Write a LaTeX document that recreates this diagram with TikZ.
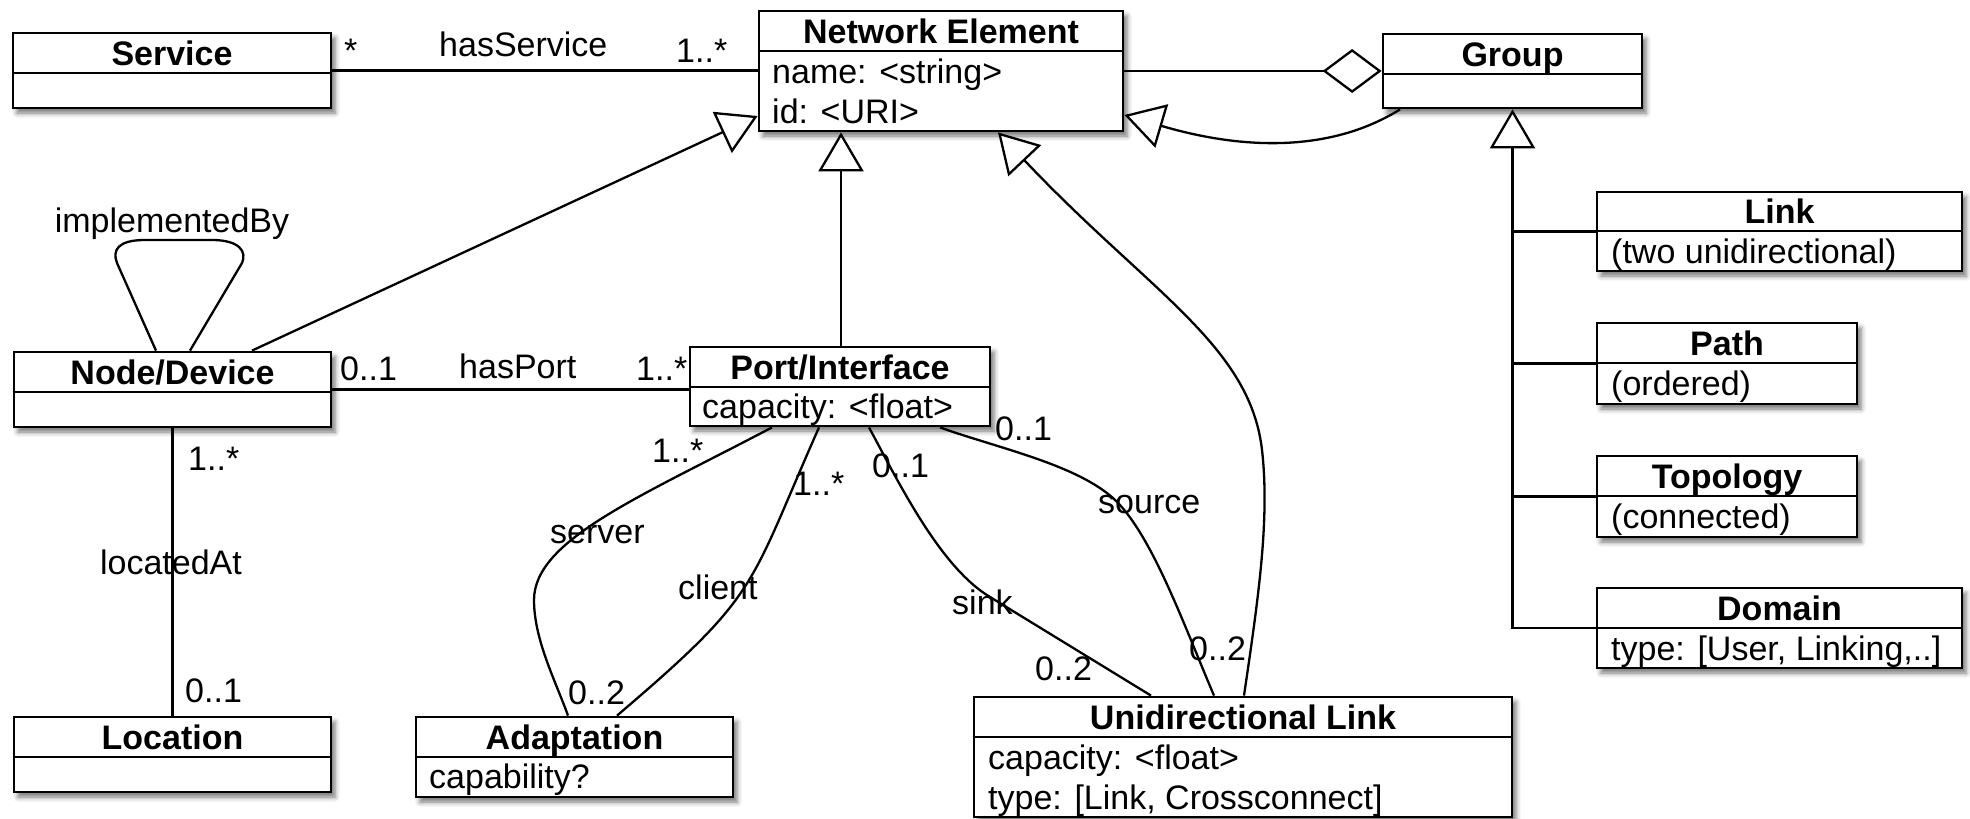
\documentclass[tikz,border=0pt]{standalone}
\usepackage{fontspec}
\setmainfont{Liberation Sans}
\usetikzlibrary{arrows.meta,shadows.blur}
\begin{document}
\begin{tikzpicture}[x=1pt,y=-1pt,
  cls/.style={draw, line width=2.8pt, fill=white, inner sep=0pt,
    blur shadow={shadow xshift=4pt, shadow yshift=-5pt, shadow blur radius=5pt, shadow opacity=55}},
  div/.style={line width=2.8pt},
  ttl/.style={font=\fontsize{34}{40}\selectfont\bfseries, anchor=base, inner sep=0pt},
  att/.style={font=\fontsize{34}{40}\selectfont, anchor=base west, inner sep=0pt},
  lbl/.style={font=\fontsize{34}{40}\selectfont, anchor=base west, inner sep=0pt},
  lblc/.style={font=\fontsize{34}{40}\selectfont, anchor=base, inner sep=0pt},
  conn/.style={line width=2.3pt},
  gen/.style={conn, -{Triangle[fill=white, length=39pt, width=45pt]}},
  agg/.style={conn, -{Diamond[fill=white, length=59pt, width=44pt]}}]
\useasboundingbox (0,0) rectangle (1970,819);

% ---------- classes ----------
\node[cls, minimum width=318pt, minimum height=75pt] (svc) at (172,70.5) {};
\draw[div] (svc.west |- 0,73) -- (svc.east |- 0,73);
\node[ttl] (svct) at (172,65) {Service};

\node[cls, minimum width=364pt, minimum height=120pt] (ne) at (941,71) {};
\draw[div] (ne.west |- 0,51) -- (ne.east |- 0,51);
\node[ttl] (net) at (941,43) {Network Element};
\node[att] (nea1) at (772,83) {name: <string>};
\node[att] (nea2) at (772,123) {id: <URI>};

\node[cls, minimum width=259pt, minimum height=74pt] (grp) at (1512.5,71) {};
\draw[div] (grp.west |- 0,74) -- (grp.east |- 0,74);
\node[ttl] (grpt) at (1512.5,66) {Group};

\node[cls, minimum width=317pt, minimum height=75pt] (nd) at (172.5,389.5) {};
\draw[div] (nd.west |- 0,392) -- (nd.east |- 0,392);
\node[ttl] (ndt) at (172.5,384) {Node/Device};

\node[cls, minimum width=317pt, minimum height=75pt] (loc) at (172.5,754.5) {};
\draw[div] (loc.west |- 0,757) -- (loc.east |- 0,757);
\node[ttl] (loct) at (172.5,749) {Location};

\node[cls, minimum width=300pt, minimum height=79pt] (pt) at (840,386.5) {};
\draw[div] (pt.west |- 0,387) -- (pt.east |- 0,387);
\node[ttl] (ptt) at (840,379) {Port/Interface};
\node[att] (pta) at (702,418) {capacity: <float>};

\node[cls, minimum width=317pt, minimum height=80pt] (adp) at (574.5,757) {};
\draw[div] (adp.west |- 0,757) -- (adp.east |- 0,757);
\node[ttl] (adpt) at (574.5,749) {Adaptation};
\node[att] (adpa) at (429,788) {capability?};

\node[cls, minimum width=538pt, minimum height=120pt] (uni) at (1243,757) {};
\draw[div] (uni.west |- 0,737) -- (uni.east |- 0,737);
\node[ttl] (unit) at (1243,729) {Unidirectional Link};
\node[att] (unia1) at (988,769) {capacity: <float>};
\node[att] (unia2) at (988,809) {type: [Link, Crossconnect]};

\node[cls, minimum width=365pt, minimum height=79pt] (lnk) at (1779.5,231.5) {};
\draw[div] (lnk.west |- 0,231) -- (lnk.east |- 0,231);
\node[ttl] (lnkt) at (1779.5,223) {Link};
\node[att] (lnka) at (1611,263) {(two unidirectional)};

\node[cls, minimum width=260pt, minimum height=81pt] (pth) at (1727,363.5) {};
\draw[div] (pth.west |- 0,363) -- (pth.east |- 0,363);
\node[ttl] (ptht) at (1727,355) {Path};
\node[att] (ptha) at (1611,395) {(ordered)};

\node[cls, minimum width=260pt, minimum height=81pt] (topo) at (1727,496.5) {};
\draw[div] (topo.west |- 0,496) -- (topo.east |- 0,496);
\node[ttl] (topot) at (1727,488) {Topology};
\node[att] (topoa) at (1611,528) {(connected)};

\node[cls, minimum width=365pt, minimum height=80pt] (dom) at (1779.5,628) {};
\draw[div] (dom.west |- 0,628) -- (dom.east |- 0,628);
\node[ttl] (domt) at (1779.5,620) {Domain};
\node[att] (doma) at (1611,660) {type: [User, Linking,..]};

% ---------- connectors ----------
\draw[conn] (svc.east) -- (svc.east -| ne.west);
\draw[agg] (ne.east) -- (grp.west);
\draw[gen] (252,0 |- nd.north) -- (ne.west |- 0,116);
\draw[gen] (841,0 |- pt.north) -- (841,0 |- ne.south);
\draw[gen] (1244,0 |- uni.north) .. controls (1258,600) and (1270,520) .. (1262,450)
   .. controls (1250,345) and (1148,291) .. (998,0 |- ne.south);
\draw[gen] (1400,0 |- grp.south) .. controls (1335,150) and (1250,152) .. (ne.east |- 0,115);
\draw[gen] (dom.west) -| (grp.south);
\draw[conn] (lnk.west) -- (lnk.west -| grp.south);
\draw[conn] (pth.west) -- (pth.west -| grp.south);
\draw[conn] (topo.west) -- (topo.west -| grp.south);
\draw[conn] (nd.east) -- (nd.east -| pt.west);
\draw[conn] (nd.south) -- (loc.north);
\draw[conn] (156,0 |- nd.north) -- (117,263) .. controls (112,250) and (118,240) .. (145,240)
   -- (212,240) .. controls (240,240) and (247,252) .. (242,263) -- (190,0 |- nd.north);
\draw[conn] (772,0 |- pt.south) .. controls (640,497) and (534,540) .. (534,600)
   .. controls (534,640) and (556,682) .. (568,0 |- adp.north);
\draw[conn] (819,0 |- pt.south) .. controls (747,590) and (761,593) .. (617,0 |- adp.north);
\draw[conn] (869,0 |- pt.south) .. controls (899,483) and (940,567) .. (990,597) -- (1151,0 |- uni.north);
\draw[conn] (940,0 |- pt.south) .. controls (1000,449) and (1085,466) .. (1120,505)
   .. controls (1155,544) and (1184,625) .. (1214,0 |- uni.north);

% ---------- labels ----------
\node[lbl] (l1) at (344,62) {*};
\node[lbl] (l2) at (439,56) {hasService};
\node[lbl] (l3) at (676,62) {1..*};
\node[lblc] (l4) at (172,232) {implementedBy};
\node[lbl] (l5) at (340,380) {0..1};
\node[lbl] (l6) at (459,378) {hasPort};
\node[lbl] (l7) at (636,380) {1..*};
\node[lbl] (l8) at (188,470) {1..*};
\node[lblc] (l9) at (171,574) {locatedAt};
\node[lbl] (l10) at (185,702) {0..1};
\node[lbl] (l11) at (652,462) {1..*};
\node[lbl] (l12) at (793,495) {1..*};
\node[lbl] (l13) at (550,543) {server};
\node[lbl] (l14) at (678,599) {client};
\node[lbl] (l15) at (568,704) {0..2};
\node[lbl] (l16) at (995,440) {0..1};
\node[lbl] (l17) at (872,477) {0..1};
\node[lbl] (l18) at (1098,513) {source};
\node[lbl] (l19) at (952,614) {sink};
\node[lbl] (l20) at (1035,680) {0..2};
\node[lbl] (l21) at (1189,660) {0..2};
\end{tikzpicture}
\end{document}
